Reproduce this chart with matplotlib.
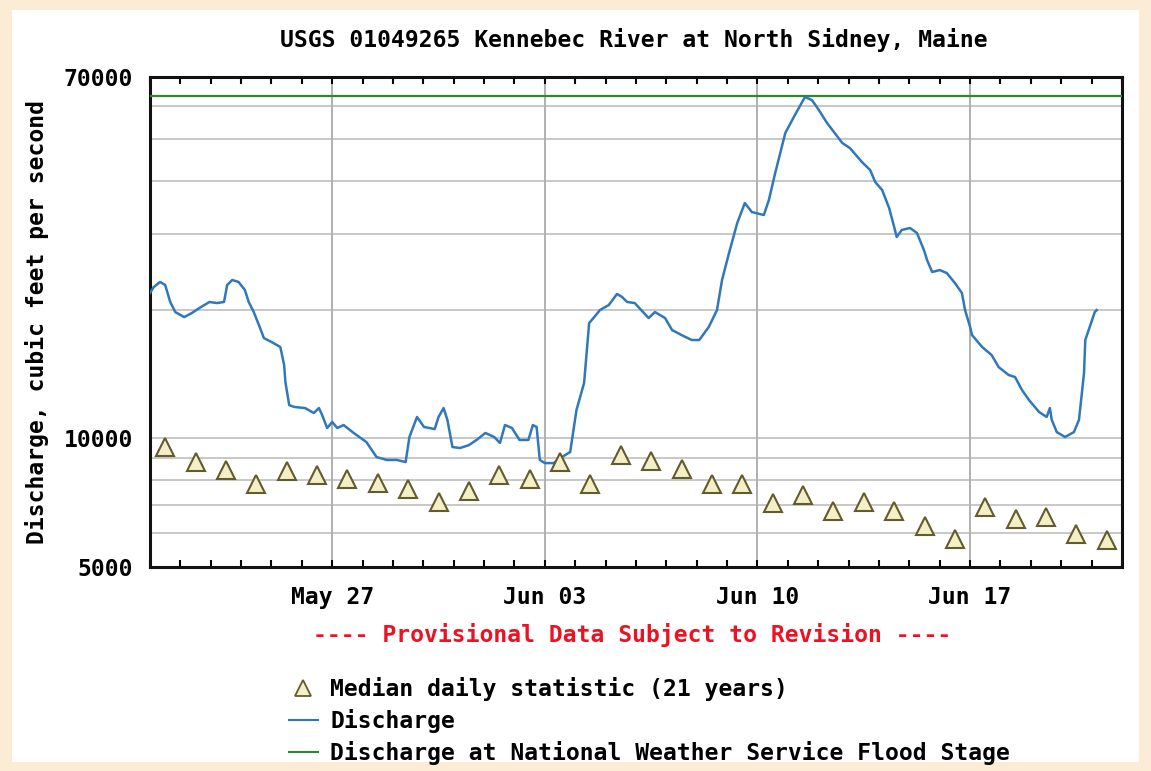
import matplotlib
matplotlib.use("Agg")
import matplotlib.pyplot as plt
import matplotlib.dates as mdates
from matplotlib.lines import Line2D
from matplotlib.patches import Rectangle
from matplotlib.ticker import FixedLocator, NullFormatter
import pandas as pd

YEAR = "2013"

# Discharge readings (date time, cfs)
q_times = [
    "05-21 00:00", "05-21 03:00", "05-21 08:00", "05-21 12:00", "05-21 16:00", "05-21 20:00",
    "05-22 03:00", "05-22 09:00", "05-22 15:00", "05-22 23:00", "05-23 05:00", "05-23 10:30",
    "05-23 13:00", "05-23 17:00", "05-23 22:00", "05-24 03:00", "05-24 06:00", "05-24 10:00",
    "05-24 15:00", "05-24 18:00", "05-25 00:00", "05-25 07:00", "05-25 10:00", "05-25 11:00",
    "05-25 14:00", "05-25 18:00", "05-26 02:30", "05-26 09:30", "05-26 13:30", "05-26 16:00",
    "05-26 20:00", "05-27 00:00", "05-27 04:00", "05-27 09:00", "05-27 17:00", "05-28 03:00",
    "05-28 11:00", "05-28 19:00", "05-29 03:00", "05-29 10:00", "05-29 13:00", "05-29 19:00",
    "05-30 00:30", "05-30 09:00", "05-30 12:00", "05-30 16:00", "05-30 19:00", "05-30 23:00",
    "05-31 05:00", "05-31 12:00", "05-31 18:00", "06-01 01:00", "06-01 08:00", "06-01 12:30",
    "06-01 16:30", "06-01 22:00", "06-02 04:00", "06-02 11:00", "06-02 14:30", "06-02 17:30",
    "06-02 20:00", "06-03 00:00", "06-03 07:00", "06-03 13:30", "06-03 20:00", "06-04 01:00",
    "06-04 07:00", "06-04 11:00", "06-04 15:00", "06-04 19:30", "06-05 02:30", "06-05 09:00",
    "06-05 13:00", "06-05 17:00", "06-05 23:00", "06-06 10:00", "06-06 15:00", "06-06 23:00",
    "06-07 04:30", "06-07 12:00", "06-07 20:00", "06-08 02:00", "06-08 09:30", "06-08 16:00",
    "06-08 20:00", "06-09 01:30", "06-09 08:00", "06-09 14:00", "06-09 19:30", "06-10 05:00",
    "06-10 09:00", "06-10 14:00", "06-10 22:00", "06-11 05:30", "06-11 13:30", "06-11 19:00",
    "06-12 00:30", "06-12 07:00", "06-12 13:00", "06-12 19:00", "06-13 01:00", "06-13 10:30",
    "06-13 17:00", "06-13 21:00", "06-14 02:30", "06-14 08:00", "06-14 12:00", "06-14 14:00",
    "06-14 18:00", "06-15 00:30", "06-15 06:00", "06-15 11:30", "06-15 14:00", "06-15 18:00",
    "06-16 00:00", "06-16 05:30", "06-16 12:00", "06-16 17:30", "06-16 20:00", "06-17 00:00",
    "06-17 01:30", "06-17 09:30", "06-17 17:00", "06-17 22:30", "06-18 06:30", "06-18 11:30",
    "06-18 17:00", "06-18 22:30", "06-19 06:30", "06-19 12:30", "06-19 15:00", "06-19 16:30",
    "06-19 20:30", "06-20 03:00", "06-20 10:00", "06-20 14:00", "06-20 18:00", "06-20 19:00",
    "06-20 22:30", "06-21 02:30", "06-21 04:00",
]
q_cfs = [
    21870, 22590, 23210, 22840, 20840, 19740,
    19210, 19630, 20170, 20840, 20720, 20840,
    22840, 23460, 23210, 22230, 20840, 19740,
    18110, 17160, 16800, 16350, 14840, 13540,
    11960, 11840, 11770, 11460, 11770, 11340,
    10570, 10920, 10570, 10740, 10290, 9800,
    9040, 8900, 8900, 8800, 10070, 11220,
    10630, 10510, 11220, 11770, 11040, 9540,
    9490, 9640, 9910, 10290, 10070, 9750,
    10740, 10570, 9910, 9910, 10740, 10630,
    8900, 8750, 8750, 9040, 9290, 11650,
    13470, 18600, 19210, 19950, 20500, 21760,
    21410, 20840, 20720, 19110, 19740, 19110,
    17920, 17440, 16980, 16980, 18210, 19950,
    23460, 27130, 31890, 35510, 33830, 33290,
    36090, 41750, 51800, 57000, 62850, 61840,
    58600, 54630, 51800, 49070, 47750, 44300,
    42430, 39770, 38090, 34570, 31210, 29570,
    30710, 31040, 30220, 27570, 26120, 24490,
    24750, 24360, 23080, 21870, 19950, 18210,
    17440, 16350, 15660, 14680, 14060, 13910,
    12970, 12290, 11520, 11220, 11770, 11040,
    10340, 10070, 10340, 11040, 14210, 16980,
    18210, 19740, 19950,
]

# Median daily statistic (21 years), one per day May 21 .. Jun 21
median_days = pd.date_range(f"{YEAR}-05-21", f"{YEAR}-06-21", freq="D")
median_cfs = [9540, 8800, 8430, 7820, 8400, 8200, 8030, 7880, 7610, 7090, 7520,
              8200, 8030, 8800, 7820, 9140, 8840, 8470, 7820, 7820, 7055, 7365,
              6760, 7090, 6760, 6230, 5810, 6905, 6475, 6530, 5970, 5780]

flood_stage = 63200

y_labeled = [5000, 10000, 70000]
y_grid = [6000, 7000, 8000, 9000, 20000, 30000, 40000, 50000, 60000]
week_ticks = ["05-27", "06-03", "06-10", "06-17"]

FONT = "DejaVu Sans Mono"
FS = 16.6

t = pd.to_datetime([f"{YEAR}-{s}" for s in q_times])
t_med = median_days + pd.Timedelta(hours=12)

fig = plt.figure(figsize=(11.51, 7.71), dpi=100, facecolor="#fcecd6")
fig.patches.append(Rectangle((0.010, 0.012), 0.980, 0.975, transform=fig.transFigure,
                             facecolor="white", edgecolor="none", zorder=-10))

ax = fig.add_axes([0.1303, 0.2646, 0.8445, 0.6355])
ax.set_yscale("log")
ax.set_ylim(5000, 70000)
ax.set_xlim(pd.Timestamp(f"{YEAR}-05-21"), pd.Timestamp(f"{YEAR}-06-22"))

# grid
for v in y_labeled[1:-1] + y_grid:
    ax.axhline(v, color="#c8c8c8", lw=1.4, zorder=1)
for d in week_ticks:
    ax.axvline(pd.Timestamp(f"{YEAR}-{d}"), color="#b0b0b0", lw=1.4, zorder=1)

ax.axhline(flood_stage, color="#2b8a2b", lw=1.6, zorder=3)
ax.plot(t, q_cfs, color="#2f78ba", lw=1.8, zorder=4)
ax.plot(t_med, median_cfs, linestyle="none", marker="^", ms=13, mfc="#f4efc6",
        mec="#625b2e", mew=1.5, zorder=5)

ax.yaxis.set_major_locator(FixedLocator(y_labeled))
ax.yaxis.set_minor_locator(FixedLocator(y_grid))
ax.yaxis.set_minor_formatter(NullFormatter())
ax.set_yticklabels([str(v) for v in y_labeled], fontfamily=FONT, fontsize=FS,
                   fontweight="bold")
ax.tick_params(axis="y", which="both", length=0, pad=12)

ax.xaxis.set_major_locator(FixedLocator(mdates.date2num(
    pd.to_datetime([f"{YEAR}-{d}" for d in week_ticks]))))
ax.xaxis.set_major_formatter(mdates.DateFormatter("%b %d"))
ax.xaxis.set_minor_locator(mdates.DayLocator())
ax.tick_params(axis="x", which="both", direction="in", top=True, length=5,
               width=1.5, color="black", pad=14)
for lab in ax.get_xticklabels():
    lab.set_fontfamily(FONT)
    lab.set_fontsize(FS)
    lab.set_fontweight("bold")

for sp in ax.spines.values():
    sp.set_linewidth(2.2)
    sp.set_color("#111111")

ax.set_ylabel("Discharge, cubic feet per second", fontfamily=FONT, fontsize=FS,
              fontweight="bold")
ax.yaxis.set_label_coords(-0.104, 0.5)

fig.text(0.551, 0.948, "USGS 01049265 Kennebec River at North Sidney, Maine",
         ha="center", va="center", fontfamily=FONT, fontsize=FS, fontweight="bold")
fig.text(0.549, 0.177, "---- Provisional Data Subject to Revision ----",
         ha="center", va="center", color="#ee1122", fontfamily=FONT, fontsize=FS,
         fontweight="bold")

handles = [
    Line2D([], [], linestyle="none", marker="^", ms=11, mfc="#f4efc6", mec="#625b2e", mew=1.3),
    Line2D([], [], color="#2f78ba", lw=1.5),
    Line2D([], [], color="#2b8a2b", lw=1.5),
]
labels = ["Median daily statistic (21 years)", "Discharge",
          "Discharge at National Weather Service Flood Stage"]
fig.legend(handles, labels, loc="upper left", bbox_to_anchor=(0.251, 0.122),
           frameon=False, handlelength=1.25, handletextpad=0.55, labelspacing=0.35,
           borderpad=0, borderaxespad=0,
           prop={"family": FONT, "size": FS, "weight": "bold"})

fig.savefig("out.png", dpi=100, facecolor=fig.get_facecolor())
